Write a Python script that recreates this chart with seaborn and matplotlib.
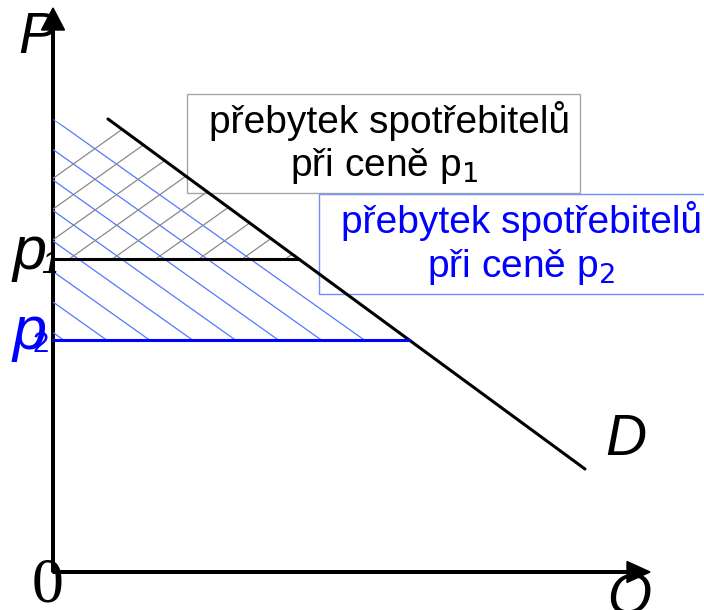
import numpy as np
import matplotlib
matplotlib.use('Agg')
import matplotlib.pyplot as plt
import seaborn as sns
from matplotlib import font_manager
from matplotlib.patches import Polygon, Rectangle
from matplotlib.collections import LineCollection

# demand curve and the two prices (1 unit = 10 px of the original picture)
q_demand = [5.5, 53.2]
p_demand = [45.3, 10.3]
p1 = 31.3
p2 = 23.2
p_top = 45.3      # where the surplus triangle meets the P axis
p_gray_left = 41.0
labels_box = ['přebytek spotřebitelů', 'při ceně p$_1$', 'při ceně p$_2$']

sns.set_theme(style='white')
names = {f.name for f in font_manager.fontManager.ttflist}
if 'Liberation Sans Narrow' in names:
    body_font, body_size = 'Liberation Sans Narrow', 34
else:
    body_font, body_size = 'Liberation Sans', 28
plt.rcParams['font.family'] = ['Liberation Sans', 'DejaVu Sans']
plt.rcParams['text.color'] = 'black'

fig = plt.figure(figsize=(7.04, 6.10), dpi=100)
ax = fig.add_axes([0, 0, 1, 1])
ax.set_xlim(-5.3, 65.1)
ax.set_ylim(-3.8, 57.2)
ax.axis('off')

# quantities where each price meets demand
q1 = np.interp(p1, p_demand[::-1], q_demand[::-1])
q2 = np.interp(p2, p_demand[::-1], q_demand[::-1])

blue = '#0000ff'
hatch_blue = '#5577ff'
hatch_gray = '#8a8a8a'

# hatching: blue "\" over the surplus at p2, gray "/" over the surplus at p1
slope = 0.71
qq = np.array([0, 60])
blue_area = Polygon([(0, p_top), (q2, p2), (0, p2)], closed=True, fill=False, lw=0)
ax.add_patch(blue_area)
segs = [list(zip(qq, c - slope * qq)) for c in np.arange(p_top, p2 - 45, -3.05)]
lc = LineCollection(segs, colors=hatch_blue, linewidths=0.9)
ax.add_collection(lc)
lc.set_clip_path(blue_area)

gray_area = Polygon([(0, p_gray_left), (q_demand[0], p_demand[0]), (q1, p1), (0, p1)],
                    closed=True, fill=False, lw=0)
ax.add_patch(gray_area)
segs = [list(zip(qq, c + slope * qq)) for c in np.arange(30.15 - 3.07 * 7, 46, 3.07)]
lc = LineCollection(segs, colors=hatch_gray, linewidths=0.9)
ax.add_collection(lc)
lc.set_clip_path(gray_area)

# axes with arrows
ax.arrow(0, 0, 0, 56.4, width=0.26, head_width=2.3, head_length=2.2,
         length_includes_head=True, color='black')
ax.arrow(0, 0, 59.7, 0, width=0.26, head_width=2.1, head_length=2.3,
         length_includes_head=True, color='black')

# demand and price lines
sns.lineplot(x=q_demand, y=p_demand, color='black', lw=2.2, ax=ax)
ax.plot([0, q1], [p1, p1], color='black', lw=2.2)
ax.plot([0, q2], [p2, p2], color=blue, lw=2.2)

# labels
ax.text(-3.5, 51.9, 'P', fontsize=41, style='italic', ha='left', va='baseline')
ax.text(55.2, 11.7, 'D', fontsize=41, style='italic', ha='left', va='baseline')
ax.text(55.4, -4.2, 'Q', fontsize=41, style='italic', ha='left', va='baseline')
t0 = ax.text(-0.5, -3.0, '0', fontsize=46, family='Liberation Serif',
             ha='center', va='baseline')
clip0 = Rectangle((-5, -6), 10, 7.0, transform=ax.transData)
t0.set_clip_path(clip0)

ax.text(-4.0, 30.3, 'p', fontsize=44, style='italic', ha='left', va='baseline')
ax.text(-1.2, 29.9, '1', fontsize=22, style='italic', ha='left', va='baseline')
ax.text(-4.0, 22.3, 'p', fontsize=44, style='italic', color=blue, ha='left', va='baseline')
ax.text(-2.0, 22.0, '2', fontsize=21, color=blue, ha='left', va='baseline')

# text boxes
ax.add_patch(Rectangle((13.4, 37.9), 39.3, 9.9, fill=False, ec='#a6a6a6', lw=1))
ax.add_patch(Rectangle((26.6, 27.8), 50, 10.0, fill=False, ec='#7090ff', lw=1, clip_on=False))
ax.text(33.7, 43.9, labels_box[0], fontsize=body_size, family=body_font,
        ha='center', va='baseline')
ax.text(33.1, 39.6, labels_box[1], fontsize=body_size, family=body_font,
        ha='center', va='baseline')
ax.text(46.9, 33.9, labels_box[0], fontsize=body_size, family=body_font, color=blue,
        ha='center', va='baseline')
ax.text(46.8, 29.5, labels_box[2], fontsize=body_size, family=body_font, color=blue,
        ha='center', va='baseline')

fig.savefig('out.png', dpi=100)
